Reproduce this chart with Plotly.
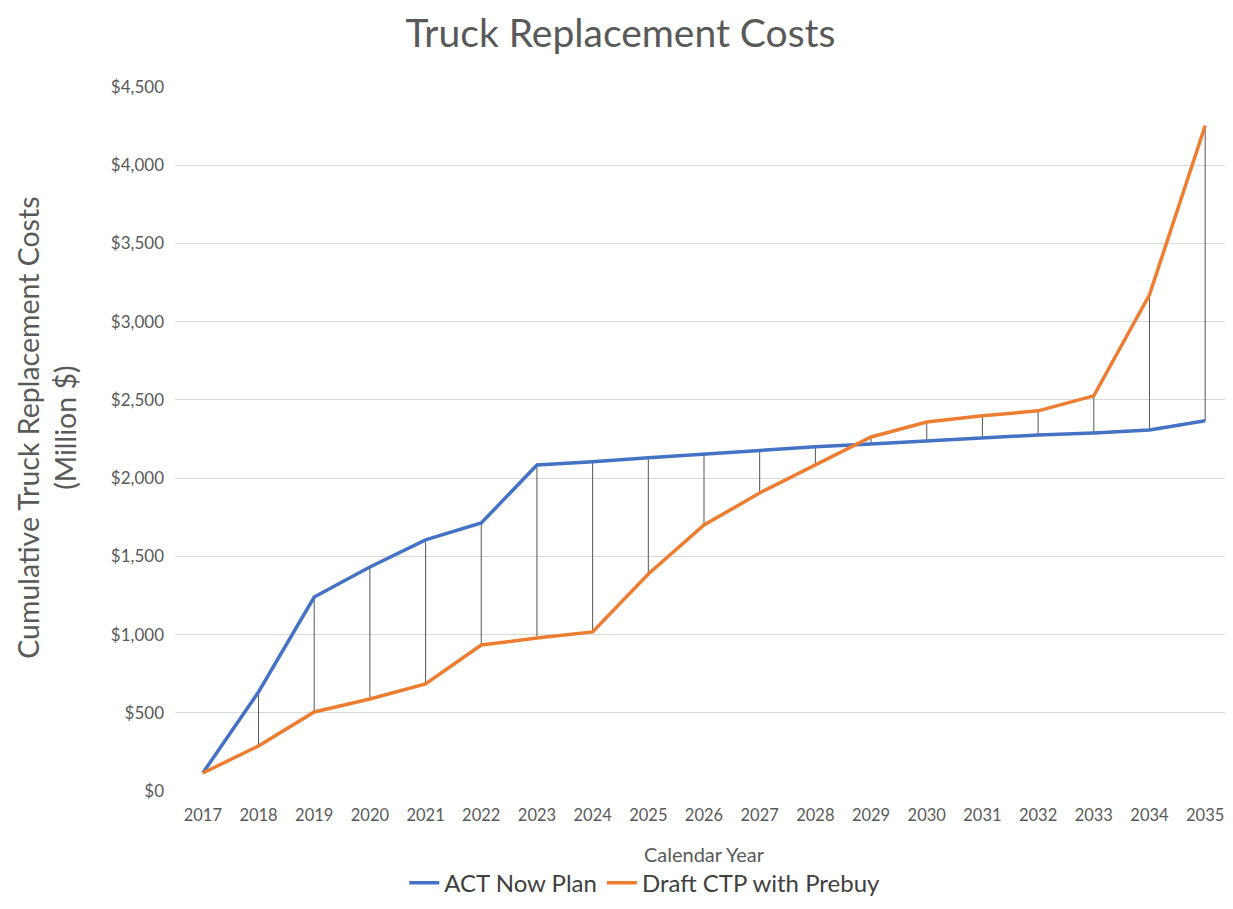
import plotly.graph_objects as go

years = [str(y) for y in range(2017, 2036)]
act_now = [115, 633, 1240, 1432, 1605, 1713, 2084, 2104, 2130, 2155, 2180, 2200,
           2218, 2238, 2257, 2276, 2289, 2308, 2366]
draft_ctp = [115, 288, 505, 588, 684, 933, 978, 1017, 1387, 1700, 1905, 2084,
             2263, 2359, 2398, 2430, 2526, 3171, 4252]

y_ticks = list(range(0, 4501, 500))
y_tick_text = ["$" + format(v, ",") for v in y_ticks]

# high-low drop lines between the two series
dx, dy = [], []
for yr, a, b in zip(years, act_now, draft_ctp):
    dx += [yr, yr, None]
    dy += [a, b, None]

fig = go.Figure()
fig.add_trace(go.Scatter(x=dx, y=dy, mode="lines", line=dict(color="#555555", width=1),
                         showlegend=False, hoverinfo="skip"))
fig.add_trace(go.Scatter(x=years, y=act_now, mode="lines", name="ACT Now Plan",
                         line=dict(color="#4472C4", width=3.5)))
fig.add_trace(go.Scatter(x=years, y=draft_ctp, mode="lines", name="Draft CTP with Prebuy",
                         line=dict(color="#ED7D31", width=3.5)))

fig.update_layout(
    width=1225, height=901,
    paper_bgcolor="white", plot_bgcolor="white",
    font=dict(family="Lato, Open Sans, sans-serif", color="#595959"),
    title=dict(text="Truck Replacement Costs", x=0.5, xanchor="center", y=0.972, yanchor="middle",
               font=dict(size=39, color="#595959")),
    margin=dict(l=167, r=0, t=79, b=118),
    legend=dict(orientation="h", x=0.444, xanchor="center", y=-0.163, yanchor="bottom",
                font=dict(size=24, color="#404040"), itemwidth=30),
    xaxis=dict(type="category", range=[-0.5, 18.5], showgrid=False, showline=False, ticks="",
               ticklabelstandoff=12,
               tickfont=dict(size=16.5, color="#595959"),
               title=dict(text="Calendar Year", font=dict(size=20, color="#595959"), standoff=24)),
    yaxis=dict(range=[0, 4500], tickvals=y_ticks, ticktext=y_tick_text, showgrid=True,
               gridcolor="#D9D9D9", gridwidth=1, zeroline=False, showline=False, ticks="",
               ticklabelstandoff=10,
               tickfont=dict(size=17, color="#595959")),
    annotations=[dict(text="Cumulative Truck Replacement Costs<br>(Million $)",
                      xref="paper", yref="paper", x=-0.121, y=0.516,
                      xanchor="center", yanchor="middle", textangle=-90, showarrow=False,
                      font=dict(size=28.5, color="#595959"))],
)

fig.write_html("out.html")
